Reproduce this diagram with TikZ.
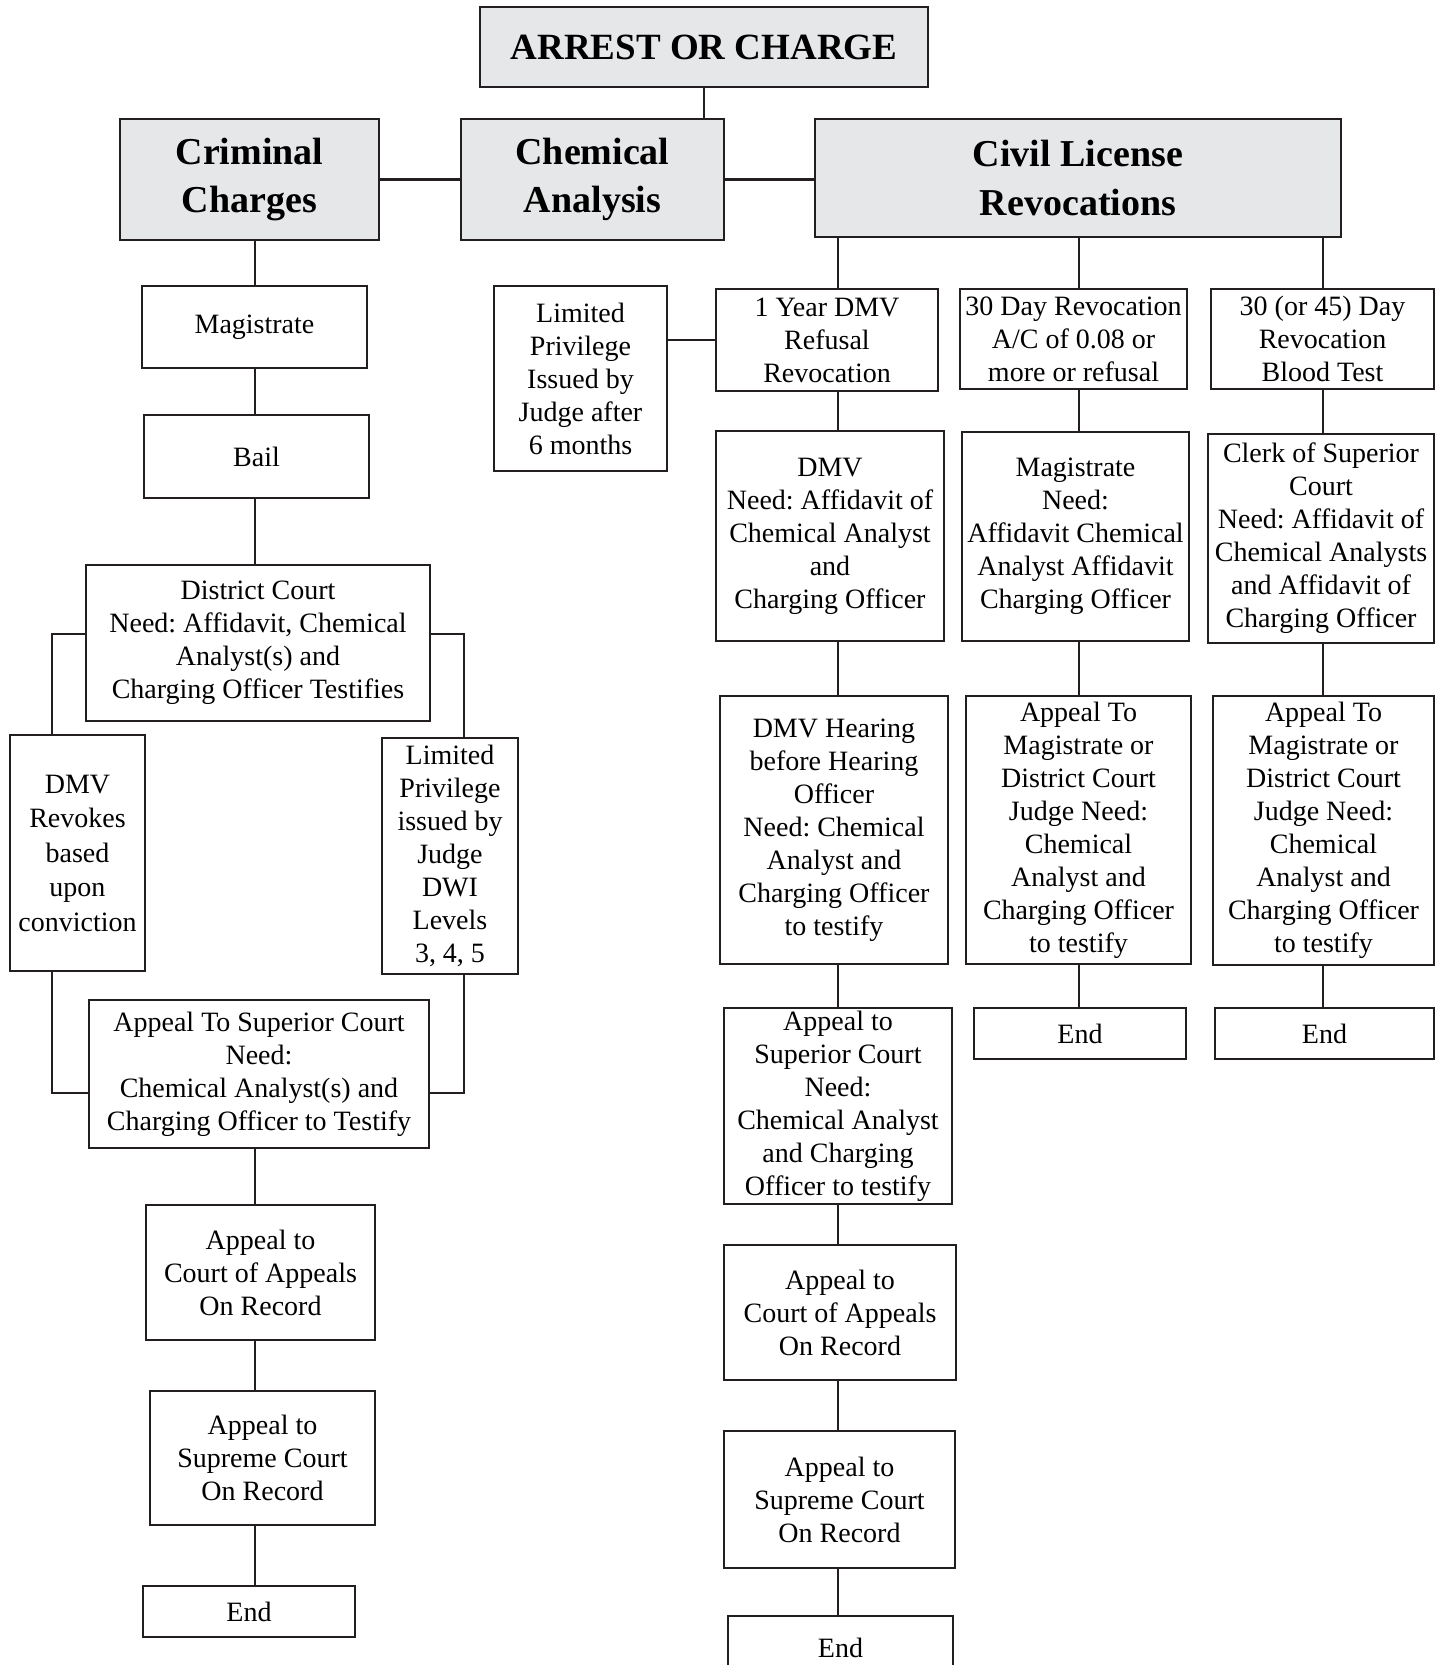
\documentclass[tikz,border=0pt]{standalone}
\usepackage{fontspec}
\setmainfont{Liberation Serif}
\frenchspacing
\definecolor{headfill}{RGB}{230,231,232}
\definecolor{inkline}{RGB}{35,31,32}
\begin{document}
\begin{tikzpicture}
        [x=1pt,y=-1pt,line width=2.6pt,
        every node/.style={draw=inkline,align=center,inner sep=1pt},
        wh/.style 2 args={minimum width=#1pt,minimum height=#2pt},
        box/.style={font=\fontsize{28}{33}\selectfont},
        head/.style={fill=headfill,font=\bfseries\fontsize{38}{48}\selectfont},
        link/.style={draw=inkline}]
        \useasboundingbox (0,0) rectangle (1450,1665);
        \clip (0,0) rectangle (1450,1665);
        \node[head,wh={448}{80},font=\bfseries\fontsize{37}{44}\selectfont] (arrest) at (704,47) {ARREST OR CHARGE};
        \node[head,wh={259}{121}] (crim) at (249.5,179.5) {Criminal\\Charges};
        \node[head,wh={263}{121}] (chem) at (592.5,179.5) {Chemical\\Analysis};
        \node[head,wh={526}{118}] (civil) at (1078,178) {Civil License\\Revocations};
        \node[box,wh={225}{82}] (mag) at (254.5,327) {Magistrate};
        \node[box,wh={225}{83}] (bail) at (256.5,456.5) {Bail};
        \node[box,wh={344}{156}] (dist) at (258,643) {District Court\\Need: Affidavit, Chemical\\Analyst(s) and\\Charging Officer Testifies};
        \node[box,wh={135}{236},font=\fontsize{28}{34.5}\selectfont] (revk) at (77.5,853) {DMV\\Revokes\\based\\upon\\conviction};
        \node[box,wh={136}{236}] (lpj) at (450,856) {Limited\\Privilege\\issued by\\Judge\\DWI\\Levels\\3, 4, 5};
        \node[box,wh={340}{148}] (supc) at (259,1074) {Appeal To Superior Court\\Need:\\Chemical Analyst(s) and\\Charging Officer to Testify};
        \node[box,wh={229}{135}] (coac) at (260.5,1272.5) {Appeal to\\Court of Appeals\\On Record};
        \node[box,wh={225}{134}] (supr) at (262.5,1458) {Appeal to\\Supreme Court\\On Record};
        \node[box,wh={212}{51}] (endc) at (249,1611.5) {End};
        \node[box,wh={173}{185}] (lpc) at (580.5,378.5) {Limited\\Privilege\\Issued by\\Judge after\\6 months};
        \node[box,wh={222}{102}] (yr1) at (827,340) {1 Year DMV\\Refusal\\Revocation};
        \node[box,wh={227}{100}] (d30) at (1073.5,339) {30 Day Revocation\\A/C of 0.08 or\\more or refusal};
        \node[box,wh={223}{100}] (d45) at (1322.5,339) {30 (or 45) Day\\Revocation\\Blood Test};
        \node[box,wh={228}{210}] (dmv) at (830,536) {DMV\\Need: Affidavit of\\Chemical Analyst\\and\\Charging Officer};
        \node[box,wh={227}{209}] (magn) at (1075.5,536.5) {Magistrate\\Need:\\Affidavit Chemical\\Analyst Affidavit\\Charging Officer};
        \node[box,wh={226}{209}] (clerk) at (1321,538.5) {Clerk of Superior\\Court\\Need: Affidavit of\\Chemical Analysts\\and Affidavit of\\Charging Officer};
        \node[box,wh={228}{268}] (hear) at (834,830) {DMV Hearing\\before Hearing\\Officer\\Need: Chemical\\Analyst and\\Charging Officer\\to testify};
        \node[box,wh={225}{268}] (apm) at (1078.5,830) {Appeal To\\Magistrate or\\District Court\\Judge Need:\\Chemical\\Analyst and\\Charging Officer\\to testify};
        \node[box,wh={221}{269}] (apr) at (1323.5,830.5) {Appeal To\\Magistrate or\\District Court\\Judge Need:\\Chemical\\Analyst and\\Charging Officer\\to testify};
        \node[box,wh={212}{51}] (endm) at (1080,1033.5) {End};
        \node[box,wh={219}{51}] (endr) at (1324.5,1033.5) {End};
        \node[box,wh={228}{196}] (supv) at (838,1106) {Appeal to\\Superior Court\\Need:\\Chemical Analyst\\and Charging\\Officer to testify};
        \node[box,wh={232}{135}] (coav) at (840,1312.5) {Appeal to\\Court of Appeals\\On Record};
        \node[box,wh={231}{137}] (suprv) at (839.5,1499.5) {Appeal to\\Supreme Court\\On Record};
        \node[box,wh={225}{64}] (endv) at (840.5,1648) {End};
        \coordinate (colL) at (255,0);
        \coordinate (colA) at (838,0);
        \coordinate (colB) at (1079,0);
        \coordinate (colC) at (1323,0);
        \draw[link] (arrest.south) -- (arrest.south |- chem.north);
        \draw[link] (crim.east) -- (chem.west);
        \draw[link] (chem.east) -- (chem.east -| civil.west);
        \draw[link] (colL |- crim.south) -- (colL |- mag.north);
        \draw[link] (colL |- mag.south) -- (colL |- bail.north);
        \draw[link] (colL |- bail.south) -- (colL |- dist.north);
        \draw[link] ([yshift=9pt]dist.west) -| ([xshift=-25.5pt]revk.north);
        \draw[link] ([xshift=-25.5pt]revk.south) |- ([yshift=-19pt]supc.west);
        \draw[link] ([yshift=9pt]dist.east) -| ([xshift=14pt]lpj.north);
        \draw[link] ([xshift=14pt]lpj.south) |- ([yshift=-19pt]supc.east);
        \draw[link] (colL |- supc.south) -- (colL |- coac.north);
        \draw[link] (colL |- coac.south) -- (colL |- supr.north);
        \draw[link] (colL |- supr.south) -- (colL |- endc.north);
        \draw[link] (lpc.east |- yr1.west) -- (yr1.west);
        \draw[link] (colA |- civil.south) -- (colA |- yr1.north);
        \draw[link] (colB |- civil.south) -- (colB |- d30.north);
        \draw[link] (colC |- civil.south) -- (colC |- d45.north);
        \draw[link] (colA |- yr1.south) -- (colA |- dmv.north);
        \draw[link] (colA |- dmv.south) -- (colA |- hear.north);
        \draw[link] (colA |- hear.south) -- (colA |- supv.north);
        \draw[link] (colA |- supv.south) -- (colA |- coav.north);
        \draw[link] (colA |- coav.south) -- (colA |- suprv.north);
        \draw[link] (colA |- suprv.south) -- (colA |- endv.north);
        \draw[link] (colB |- d30.south) -- (colB |- magn.north);
        \draw[link] (colB |- magn.south) -- (colB |- apm.north);
        \draw[link] (colB |- apm.south) -- (colB |- endm.north);
        \draw[link] (colC |- d45.south) -- (colC |- clerk.north);
        \draw[link] (colC |- clerk.south) -- (colC |- apr.north);
        \draw[link] (colC |- apr.south) -- (colC |- endr.north);
\end{tikzpicture}
\end{document}
